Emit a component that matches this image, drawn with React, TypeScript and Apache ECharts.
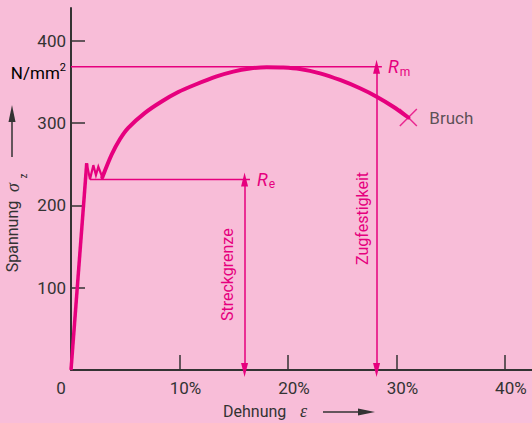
import React, { useEffect, useRef } from "react";
import * as echarts from "echarts";

// ---- data ----
const xTickValues = [10, 20, 30, 40];
const xLabelValues = [0, 10, 20, 30, 40];
const yTickValues = [100, 200, 300, 400];

// strain ε in %, stress σ in N/mm²
const elasticRise = [
  [0, 0],
  [1.45, 251.3],
];
const yieldZigzag = [
  [1.45, 251.3],
  [1.75, 231.7],
  [2.06, 249],
  [2.3, 237],
  [2.52, 247],
  [2.89, 234.2],
];
const hardening = [
  [2.89, 234.2],
  [3.75, 261.9],
  [4.52, 280.8],
  [5.28, 294.4],
  [6.82, 312.6],
  [8.36, 326.4],
  [9.89, 337.9],
  [11.43, 346.7],
  [13.43, 356.8],
  [14.96, 362.7],
  [16.5, 366.4],
  [18.04, 368.0],
  [19.57, 367.7],
  [21.11, 365.9],
  [22.96, 360.6],
  [24.8, 352.5],
  [26.64, 342.4],
  [28.18, 332.2],
  [29.71, 320.0],
  [31.1, 306.9],
];
const bruchPoint = [[31.1, 306.9]];
const Re = 231.6;
const Rm = 368.5;
const reLine = [
  [1.75, Re],
  [16.5, Re],
];
const rmLine = [
  [0, Rm],
  [28.66, Rm],
];
const streckgrenzeX = 16.0;
const zugfestigkeitX = 28.17;

const MAG = "#e6007e";
const INK = "#333333";
const BG = "#f8bdd8";
const FONT = "Roboto, 'Noto Sans', sans-serif";
const SERIF = "'Liberation Serif', 'DejaVu Serif', serif";

const subRich = (size: number) => ({
  r: { fontSize: size, fontStyle: "italic" as const, color: MAG, fontFamily: FONT, lineHeight: 22 },
  s: { fontSize: 12, color: MAG, fontFamily: FONT, verticalAlign: "bottom" as const, lineHeight: 22, padding: [0, 0, 0, 1] },
});

export default function App() {
  const ref = useRef<HTMLDivElement>(null);
  useEffect(() => {
    const chart = echarts.init(ref.current!, null, { renderer: "svg" });
    chart.setOption({
      animation: false,
      backgroundColor: BG,
      textStyle: { fontFamily: FONT },
      grid: { left: 71, right: 0, top: 8, bottom: 53, containLabel: false },
      xAxis: {
        type: "value",
        min: 0,
        max: 42.5,
        axisLine: { show: true, lineStyle: { color: INK, width: 2 } },
        axisTick: {
          show: true,
          inside: true,
          length: 15,
          customValues: xTickValues,
          lineStyle: { color: INK, width: 1.5 },
        },
        axisLabel: {
          customValues: xLabelValues,
          margin: 9,
          color: INK,
          fontSize: 17,
          fontFamily: FONT,
          formatter: (v: number) => (v === 0 ? "{z|0}" : "{a|" + v + "%}"),
          rich: {
            z: { fontSize: 17, color: INK, fontFamily: FONT, padding: [0, 20, 0, 0] },
            a: { fontSize: 17, color: INK, fontFamily: FONT, padding: [0, 0, 0, 12] },
          },
        },
        splitLine: { show: false },
      },
      yAxis: {
        type: "value",
        min: 0,
        max: 440,
        axisLine: { show: true, lineStyle: { color: INK, width: 2 } },
        axisTick: {
          show: true,
          inside: true,
          length: 14,
          customValues: yTickValues,
          lineStyle: { color: INK, width: 1.5 },
        },
        axisLabel: {
          customValues: yTickValues,
          margin: 5,
          color: INK,
          fontSize: 17,
          fontFamily: FONT,
        },
        splitLine: { show: false },
      },
      series: [
        {
          type: "line",
          data: elasticRise,
          showSymbol: false,
          silent: true,
          lineStyle: { color: MAG, width: 3.5 },
        },
        {
          type: "line",
          data: yieldZigzag,
          showSymbol: false,
          silent: true,
          lineStyle: { color: MAG, width: 2.2, join: "miter" },
        },
        {
          type: "line",
          data: hardening,
          smooth: 0.3,
          showSymbol: false,
          silent: true,
          lineStyle: { color: MAG, width: 4, join: "round", cap: "round" },
        },
        {
          type: "line",
          data: reLine,
          showSymbol: false,
          silent: true,
          lineStyle: { color: MAG, width: 1.5 },
          endLabel: {
            show: true,
            distance: 7,
            formatter: "{r|R}{s|e}",
            rich: subRich(18),
          },
          markLine: {
            silent: true,
            symbol: ["triangle", "triangle"],
            symbolSize: [7, 14],
            lineStyle: { color: MAG, width: 1.5, type: "solid" },
            label: {
              show: true,
              position: "insideMiddleTop",
              formatter: "{b}",
              color: MAG,
              fontSize: 16,
              fontFamily: FONT,
            },
            data: [
              [
                { name: "Streckgrenze", coord: [streckgrenzeX, 0], label: { distance: 9 } },
                { coord: [streckgrenzeX, Re] },
              ],
              [
                { name: "Zugfestigkeit", coord: [zugfestigkeitX, 0], label: { distance: 6 } },
                { coord: [zugfestigkeitX, Rm] },
              ],
            ],
          },
        },
        {
          type: "line",
          data: rmLine,
          showSymbol: false,
          silent: true,
          lineStyle: { color: MAG, width: 1.5 },
          endLabel: {
            show: true,
            distance: 6,
            formatter: "{r|R}{s|m}",
            rich: subRich(18),
          },
        },
        {
          type: "scatter",
          data: bruchPoint,
          symbol: "path://M0,0L10,10M10,0L0,10",
          symbolSize: 17,
          silent: true,
          itemStyle: { color: "none", borderColor: MAG, borderWidth: 1.5 },
          label: {
            show: true,
            position: "right",
            distance: 10,
            formatter: "Bruch",
            color: INK,
            fontSize: 17,
            fontFamily: FONT,
          },
        },
      ],
      graphic: [
        {
          type: "text",
          x: 66,
          y: 73,
          style: {
            text: "{a|N/mm}{s|2}",
            align: "right",
            verticalAlign: "middle",
            rich: {
              a: { fontSize: 17, color: INK, fontFamily: FONT, lineHeight: 22 },
              s: { fontSize: 11, color: INK, fontFamily: FONT, verticalAlign: "top", lineHeight: 22 },
            },
          },
        },
        {
          type: "text",
          x: 12,
          y: 236.5,
          rotation: Math.PI / 2,
          style: {
            text: "Spannung",
            align: "center",
            verticalAlign: "middle",
            fontSize: 16,
            fill: INK,
            fontFamily: FONT,
          },
        },
        {
          type: "text",
          x: 13,
          y: 187.5,
          rotation: Math.PI / 2,
          style: {
            text: "σ",
            align: "center",
            verticalAlign: "middle",
            fontSize: 18,
            fontStyle: "italic",
            fill: INK,
            fontFamily: SERIF,
          },
        },
        {
          type: "text",
          x: 23.5,
          y: 176,
          rotation: Math.PI / 2,
          style: {
            text: "z",
            align: "center",
            verticalAlign: "middle",
            fontSize: 10,
            fill: INK,
            fontFamily: FONT,
          },
        },
        {
          type: "line",
          shape: { x1: 12, y1: 157, x2: 12, y2: 118 },
          style: { stroke: INK, lineWidth: 1.5 },
        },
        {
          type: "polygon",
          shape: { points: [[12, 105], [8.5, 122], [15.5, 122]] },
          style: { fill: INK },
        },
        {
          type: "text",
          x: 223,
          y: 411,
          style: {
            text: "Dehnung",
            align: "left",
            verticalAlign: "middle",
            fontSize: 16,
            fill: INK,
            fontFamily: FONT,
          },
        },
        {
          type: "text",
          x: 303.5,
          y: 411,
          style: {
            text: "ε",
            align: "center",
            verticalAlign: "middle",
            fontSize: 18,
            fontStyle: "italic",
            fill: INK,
            fontFamily: SERIF,
          },
        },
        {
          type: "line",
          shape: { x1: 323, y1: 412, x2: 362, y2: 412 },
          style: { stroke: INK, lineWidth: 1.5 },
        },
        {
          type: "polygon",
          shape: { points: [[375, 412], [358, 408.5], [358, 415.5]] },
          style: { fill: INK },
        },
      ],
    });
    return () => chart.dispose();
  }, []);
  return (
    <div
      ref={ref}
      style={{ position: "fixed", left: 0, top: 0, width: 532, height: 423 }}
    />
  );
}
